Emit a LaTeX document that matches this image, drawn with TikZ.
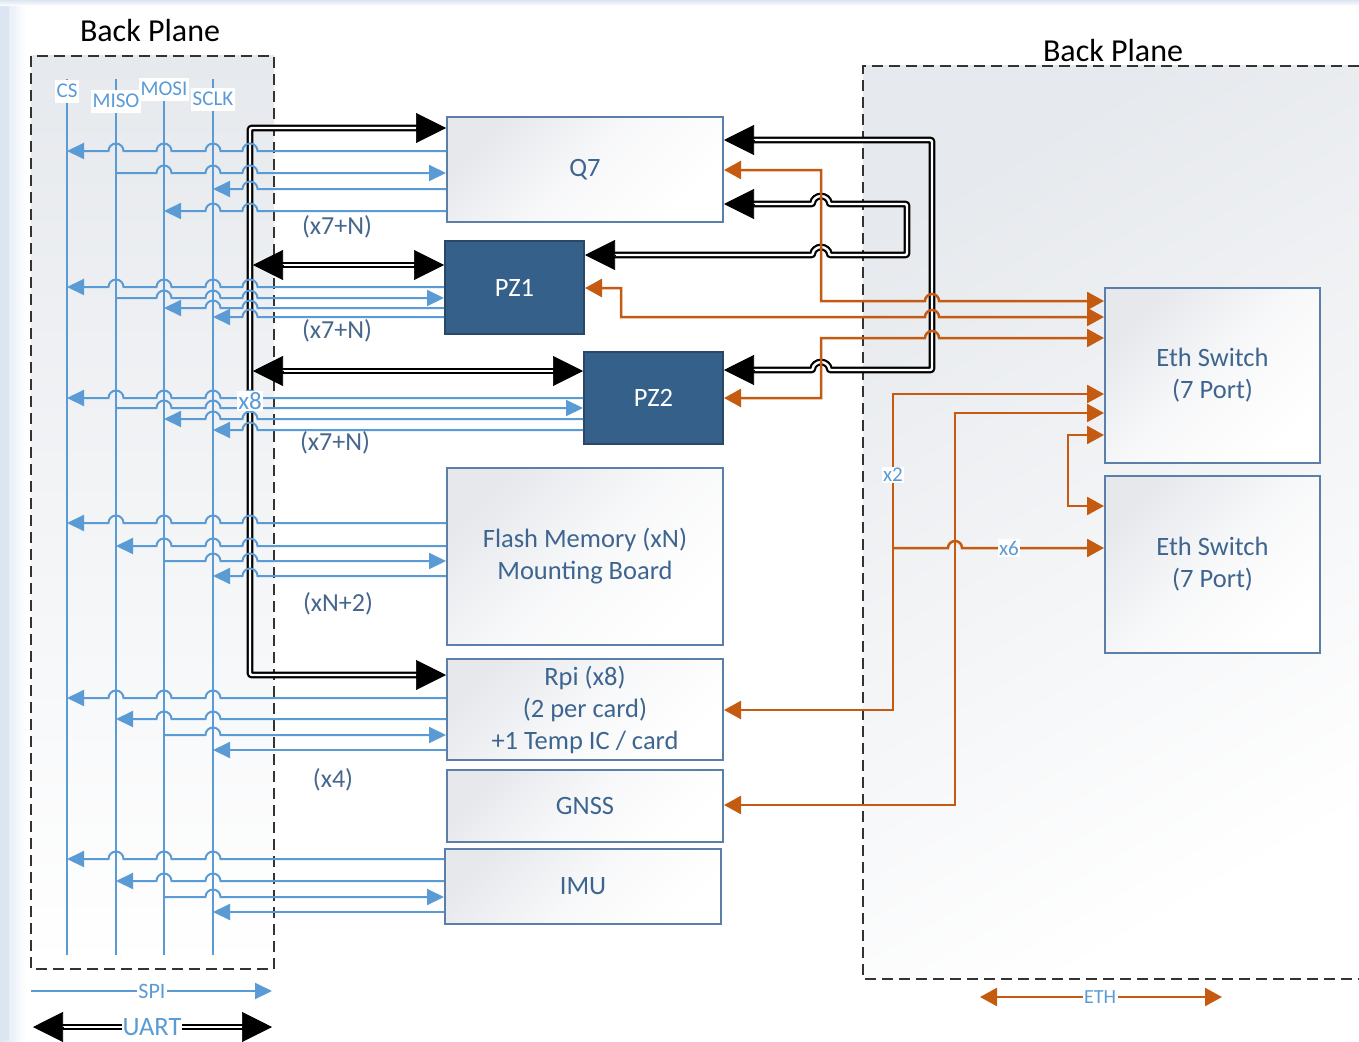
\documentclass[tikz,border=0pt]{standalone}
\usepackage{fontspec}
\setmainfont{Carlito}
\usetikzlibrary{arrows.meta}

\definecolor{spiblue}{HTML}{5B9BD5}
\definecolor{ethor}{HTML}{C55A11}
\definecolor{boxline}{HTML}{5B7FA8}
\definecolor{boxtext}{HTML}{3E6590}
\definecolor{lbltext}{HTML}{46678C}
\definecolor{pzfill}{HTML}{35608A}
\definecolor{pzline}{HTML}{2A4866}
\definecolor{planeline}{HTML}{333333}
\definecolor{boxgray}{HTML}{E6E8EC}
\definecolor{planegray}{HTML}{E6E9ED}
\definecolor{edgeblue}{HTML}{DCE6F2}

\newcommand\fsz[2]{\fontsize{#1}{#2}\selectfont}

% a horizontal line that hops over the vertical lines listed in #5
\newcommand\hopline[5]{%
  \draw[#1] (#2) \foreach \hx in {#5} { -- (\hx-7.5,#4) arc[start angle=180,end angle=0,radius=7.5pt] } -- (#3);
}

\tikzset{
  title/.style={font=\fsz{32}{38}, text=black, inner sep=0pt},
  box/.style={draw=boxline, line width=2pt, top color=boxgray, bottom color=white, middle color=white!70!boxgray,
              shading angle=45, text=boxtext, font=\fsz{26.5}{32}, align=center, inner sep=0pt},
  pz/.style={draw=pzline, line width=2pt, fill=pzfill, text=white, font=\fsz{26.5}{32}, inner sep=0pt},
  note/.style={text=lbltext, font=\fsz{26}{30}, inner sep=0pt},
  busname/.style={fill=white, text=spiblue, font=\fsz{21}{24}, inner sep=1.5pt, minimum height=23pt},
  tag/.style={fill=white, text=spiblue, inner sep=1.5pt},
  spi/.style={draw=spiblue, line width=2pt},
  spiL/.style={spi, {Triangle[length=17pt,width=16pt]}-},
  spiR/.style={spi, -{Triangle[length=17pt,width=16pt]}},
  eth/.style={draw=ethor, line width=2.5pt},
  ethR/.style={eth, -{Triangle[length=17pt,width=18pt]}},
  ethLR/.style={eth, {Triangle[length=17pt,width=18pt]}-{Triangle[length=17pt,width=18pt]}},
  uart/.style={draw=black, line width=2.2pt, double=white, double distance=2.4pt,
               shorten <=22pt, shorten >=22pt},
  bhead/.style={draw=black, line width=0.6pt, -{Triangle[length=30pt,width=30pt]}},
  plane/.style={draw=planeline, line width=2pt, dash pattern=on 11pt off 6pt},
}

\begin{document}
\begin{tikzpicture}[x=1pt,y=1pt]
\useasboundingbox (0,0) rectangle (1359,-1041);

% page background with its tinted edges
\fill[white] (0,0) rectangle (1359,-1041);
\shade[left color=edgeblue, right color=white] (0,0) rectangle (26,-1041);
\fill[edgeblue] (0,0) rectangle (9,-1041);
\shade[top color=edgeblue, bottom color=white] (0,0) rectangle (1359,-6);

% back planes
\shade[top color=planegray, bottom color=white] (31,-56) rectangle (274,-969);
\draw[plane] (31,-56) rectangle (274,-969);
\shade[top color=planegray, bottom color=white, shading angle=30] (863,-66) rectangle (1359,-979);
\draw[plane] (1359,-66) -- (863,-66) -- (863,-979) -- (1359,-979);
\node[title] (bp-left) at (150,-31) {Back Plane};
\node[title] (bp-right) at (1113,-51) {Back Plane};

% boards
\node[box, minimum width=276pt, minimum height=105pt] (q7) at (585,-169.5) {Q7};
\node[pz, minimum width=139pt, minimum height=93pt] (pz1) at (514.5,-287.5) {PZ1};
\node[pz, minimum width=139pt, minimum height=92pt] (pz2) at (653.5,-398) {PZ2};
\node[box, minimum width=276pt, minimum height=177pt] (flash) at (585,-556.5) {Flash Memory (xN)\\Mounting Board};
\node[box, minimum width=276pt, minimum height=101pt] (rpi) at (585,-709.5) {Rpi (x8)\\(2 per card)\\+1 Temp IC / card};
\node[box, minimum width=276pt, minimum height=72pt] (gnss) at (585,-806) {GNSS};
\node[box, minimum width=276pt, minimum height=75pt] (imu) at (583,-886.5) {IMU};
\node[box, minimum width=215pt, minimum height=175pt] (sw1) at (1212.5,-375.5) {Eth Switch\\(7 Port)};
\node[box, minimum width=215pt, minimum height=177pt] (sw2) at (1212.5,-564.5) {Eth Switch\\(7 Port)};

% SPI bus lines
\coordinate (cs) at (67,-79);
\coordinate (miso) at (116,-79);
\coordinate (mosi) at (164,-79);
\coordinate (sclk) at (213,-79);
\foreach \b in {cs,miso,mosi,sclk} \draw[spi] (\b) -- ++(0,-876);

% UART trunk and its branches
\coordinate (u-q7) at (q7.west |- 0,-128);
\coordinate (u-rpi) at (rpi.west |- 0,-675);
\coordinate (u-top) at (250,-128);
\coordinate (u-bot) at (250,-675);
\draw[uart, rounded corners=2pt] (u-q7) -- (u-top) -- (u-bot) -- (u-rpi);
\draw[bhead] ([xshift=-30pt]u-q7) -- (u-q7);
\draw[bhead] ([xshift=-30pt]u-rpi) -- (u-rpi);

\coordinate (u-pz1a) at (253,-265);
\coordinate (u-pz1b) at (pz1.west |- 0,-265);
\draw[uart] (u-pz1a) -- (u-pz1b);
\draw[bhead] ([xshift=30pt]u-pz1a) -- (u-pz1a);
\draw[bhead] ([xshift=-30pt]u-pz1b) -- (u-pz1b);

\coordinate (u-pz2a) at (253,-371);
\coordinate (u-pz2b) at (pz2.west |- 0,-371);
\draw[uart] (u-pz2a) -- (u-pz2b);
\draw[bhead] ([xshift=30pt]u-pz2a) -- (u-pz2a);
\draw[bhead] ([xshift=-30pt]u-pz2b) -- (u-pz2b);

% UART loops on the right: Q7 <-> PZ2 and Q7 <-> PZ1
\coordinate (u-q7a) at (q7.east |- 0,-140);
\coordinate (u-pz2c) at (pz2.east |- 0,-370);
\draw[uart, rounded corners=2pt] (u-q7a) -- (932,-140) -- (932,-370) -- (829,-370)
  arc[start angle=0,end angle=180,radius=8pt] -- (u-pz2c);
\draw[bhead] ([xshift=30pt]u-q7a) -- (u-q7a);
\draw[bhead] ([xshift=30pt]u-pz2c) -- (u-pz2c);

\coordinate (u-q7b) at (q7.east |- 0,-204);
\coordinate (u-pz1c) at (pz1.east |- 0,-255);
\draw[uart, rounded corners=2pt] (u-q7b) -- (813,-204) arc[start angle=180,end angle=0,radius=8pt]
  -- (907,-204) -- (907,-255) -- (829,-255) arc[start angle=0,end angle=180,radius=8pt] -- (u-pz1c);
\draw[bhead] ([xshift=30pt]u-q7b) -- (u-q7b);
\draw[bhead] ([xshift=30pt]u-pz1c) -- (u-pz1c);

% SPI links: Q7
\hopline{spiL}{cs |- 0,-151}{q7.west |- 0,-151}{-151}{116,164,213,250}
\hopline{spiR}{miso |- 0,-173}{q7.west |- 0,-173}{-173}{164,213,250}
\hopline{spiL}{sclk |- 0,-189}{q7.west |- 0,-189}{-189}{250}
\hopline{spiL}{mosi |- 0,-211}{q7.west |- 0,-211}{-211}{213,250}
% PZ1
\hopline{spiL}{cs |- 0,-287}{pz1.west |- 0,-287}{-287}{116,164,213,250}
\hopline{spiR}{miso |- 0,-298}{pz1.west |- 0,-298}{-298}{164,213,250}
\hopline{spiL}{mosi |- 0,-308}{pz1.west |- 0,-308}{-308}{213,250}
\hopline{spiL}{sclk |- 0,-317}{pz1.west |- 0,-317}{-317}{250}
% PZ2
\hopline{spiL}{cs |- 0,-398}{pz2.west |- 0,-398}{-398}{116,164,213,250}
\hopline{spiR}{miso |- 0,-408}{pz2.west |- 0,-408}{-408}{164,213,250}
\hopline{spiL}{mosi |- 0,-419}{pz2.west |- 0,-419}{-419}{213,250}
\hopline{spiL}{sclk |- 0,-430}{pz2.west |- 0,-430}{-430}{250}
% Flash
\hopline{spiL}{cs |- 0,-523}{flash.west |- 0,-523}{-523}{116,164,213,250}
\hopline{spiL}{miso |- 0,-546}{flash.west |- 0,-546}{-546}{164,213,250}
\hopline{spiR}{mosi |- 0,-561}{flash.west |- 0,-561}{-561}{213,250}
\hopline{spiL}{sclk |- 0,-576}{flash.west |- 0,-576}{-576}{250}
% Rpi
\hopline{spiL}{cs |- 0,-698}{rpi.west |- 0,-698}{-698}{116,164,213}
\hopline{spiL}{miso |- 0,-719}{rpi.west |- 0,-719}{-719}{164,213}
\hopline{spiR}{mosi |- 0,-735}{rpi.west |- 0,-735}{-735}{213}
\draw[spiL] (sclk |- 0,-750) -- (rpi.west |- 0,-750);
% IMU
\hopline{spiL}{cs |- 0,-859}{imu.west |- 0,-859}{-859}{116,164,213}
\hopline{spiL}{miso |- 0,-881}{imu.west |- 0,-881}{-881}{164,213}
\hopline{spiR}{mosi |- 0,-897}{imu.west |- 0,-897}{-897}{213}
\draw[spiL] (sclk |- 0,-912) -- (imu.west |- 0,-912);

% bus names and counts
\node[busname] (cs-name) at (67,-91) {CS};
\node[busname] (miso-name) at (116,-101) {MISO};
\node[busname] (mosi-name) at (164,-89) {MOSI};
\node[busname] (sclk-name) at (213,-99) {SCLK};
\node[tag, font=\fsz{25}{28}] (x8) at (250,-401) {x8};

\node[note] (n-q7) at (337,-227) {(x7+N)};
\node[note] (n-pz1) at (337,-331) {(x7+N)};
\node[note] (n-pz2) at (335,-443) {(x7+N)};
\node[note] (n-flash) at (338,-604) {(xN+2)};
\node[note] (n-rpi) at (333,-780) {(x4)};

% Ethernet links
\draw[ethLR] (q7.east |- 0,-170) -- (821,-170) -- (821,-301) -- (925,-301)
  arc[start angle=180,end angle=0,radius=7pt] -- (sw1.west |- 0,-301);
\draw[ethLR] (pz1.east |- 0,-288) -- (621,-288) -- (621,-317) -- (925,-317)
  arc[start angle=180,end angle=0,radius=7pt] -- (sw1.west |- 0,-317);
\draw[ethLR] (pz2.east |- 0,-398) -- (821,-398) -- (821,-338) -- (925,-338)
  arc[start angle=180,end angle=0,radius=7pt] -- (sw1.west |- 0,-338);
\draw[ethLR] (rpi.east |- 0,-710) -- (893,-710) -- (893,-394) -- (sw1.west |- 0,-394);
\draw[ethLR] (gnss.east |- 0,-805) -- (955,-805) -- (955,-413) -- (sw1.west |- 0,-413);
\draw[ethLR] (sw1.west |- 0,-435) -- (1068,-435) -- (1068,-506) -- (sw2.west |- 0,-506);
\coordinate (e-join) at (893,-548);
\draw[ethR] (e-join) -- (948,-548) arc[start angle=180,end angle=0,radius=7pt] -- (sw2.west |- 0,-548);
\node[tag, font=\fsz{21}{24}] (x2) at (893,-475) {x2};
\node[tag, font=\fsz{21}{24}] (x6) at (1009,-548) {x6};

% legend
\coordinate (spi-a) at (31,-991);
\coordinate (spi-b) at (272,-991);
\draw[spiR] (spi-a) -- (spi-b);
\node[tag, font=\fsz{22}{24}] (spi-name) at (152,-991) {SPI};

\coordinate (uart-a) at (33,-1027);
\coordinate (uart-b) at (272,-1027);
\draw[uart] (uart-a) -- (uart-b);
\draw[bhead] ([xshift=30pt]uart-a) -- (uart-a);
\draw[bhead] ([xshift=-30pt]uart-b) -- (uart-b);
\node[tag, font=\fsz{26.5}{28}, inner sep=1pt] (uart-name) at (152,-1027) {UART};

\coordinate (eth-a) at (980,-997);
\coordinate (eth-b) at (1222,-997);
\draw[ethLR] (eth-a) -- (eth-b);
\node[tag, font=\fsz{20}{22}] (eth-name) at (1100,-997) {ETH};
\end{tikzpicture}
\end{document}
